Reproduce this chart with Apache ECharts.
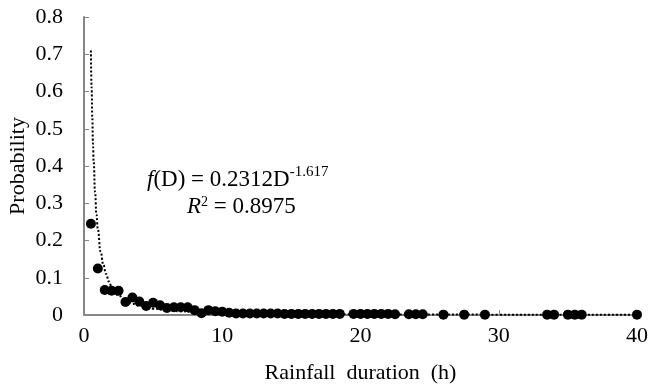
<!DOCTYPE html>
<html>
<head>
<meta charset="utf-8">
<script src="https://cdn.jsdelivr.net/npm/echarts@6/dist/echarts.min.js"></script>
<style>
  html, body { margin: 0; padding: 0; background: #fff; }
  #chart { width: 650px; height: 386px; }
</style>
</head>
<body>
<div id="chart"></div>
<script>
// observed points: rainfall duration (h) and probability
var durations = [
  0.5, 1, 1.5, 2, 2.5, 3, 3.5, 4, 4.5, 5, 5.5, 6, 6.5, 7, 7.5, 8, 8.5, 9, 9.5, 10, 10.5,
  11, 11.5, 12, 12.5, 13, 13.5, 14, 14.5, 15, 15.5, 16, 16.5, 17, 17.5, 18, 18.5,
  19.5, 20, 20.5, 21, 21.5, 22, 22.5,
  23.5, 24, 24.5, 26, 27.5, 29,
  33.5, 34, 35, 35.5, 36, 40
];
var probs = [
  0.245, 0.125, 0.067, 0.065, 0.065, 0.035, 0.047, 0.036, 0.024, 0.033, 0.026, 0.019, 0.021, 0.021, 0.021, 0.013, 0.005, 0.013, 0.010, 0.009, 0.006,
  0.004, 0.004, 0.004, 0.004, 0.004, 0.004, 0.004, 0.003, 0.003, 0.003, 0.003, 0.003, 0.003, 0.003, 0.003, 0.003,
  0.003, 0.003, 0.003, 0.003, 0.003, 0.003, 0.002,
  0.002, 0.002, 0.002, 0.001, 0.001, 0.001,
  0.001, 0.001, 0.001, 0.001, 0.001, 0.001
];
// dotted power trend line
var trendX = [0.5, 0.55, 0.6, 0.65, 0.7, 0.8, 0.9, 1, 1.2, 1.4, 1.6, 1.8, 2, 2.5, 3, 3.5, 4, 5, 6, 7, 8, 10, 12, 15, 20, 25, 30, 35, 40];
var trendY = [0.71, 0.61, 0.53, 0.46, 0.41, 0.33, 0.27, 0.23, 0.17, 0.135, 0.11, 0.09, 0.076, 0.052, 0.039, 0.03, 0.025, 0.017, 0.013, 0.010, 0.008, 0.006, 0.0042, 0.003, 0.002, 0.0013, 0.001, 0.0007, 0.0006];

var yTicks = [0, 0.1, 0.2, 0.3, 0.4, 0.5, 0.6, 0.7, 0.8];
var xTicks = [0, 10, 20, 30, 40];

var font = 'Liberation Serif';
var axisColor = '#878787';

var chart = echarts.init(document.getElementById('chart'));
chart.setOption({
  animation: false,
  grid: { left: 84, right: 13, top: 17, bottom: 71, containLabel: false, outerBoundsMode: 'none' },
  xAxis: {
    type: 'value',
    min: xTicks[0],
    max: xTicks[xTicks.length - 1],
    interval: 10,
    name: 'Rainfall  duration  (h)',
    nameLocation: 'middle',
    nameGap: 47,
    nameMoveOverlap: false,
    nameTextStyle: { fontFamily: font, fontSize: 22, color: '#000' },
    axisLine: { lineStyle: { color: axisColor, width: 2 } },
    axisTick: { inside: true, length: 5, lineStyle: { color: axisColor } },
    axisLabel: { fontFamily: font, fontSize: 22, color: '#000', margin: 10 },
    splitLine: { show: false }
  },
  yAxis: {
    type: 'value',
    min: yTicks[0],
    max: yTicks[yTicks.length - 1],
    interval: 0.1,
    name: 'Probability',
    nameLocation: 'middle',
    nameGap: 55,
    nameMoveOverlap: false,
    nameTextStyle: { fontFamily: font, fontSize: 22, color: '#000' },
    axisLine: { show: true, lineStyle: { color: axisColor, width: 2 } },
    axisTick: { show: true, inside: true, length: 5, lineStyle: { color: axisColor } },
    axisLabel: {
      fontFamily: font, fontSize: 22, color: '#000', margin: 21,
      formatter: function (v) { return +v.toFixed(1) + ''; }
    },
    splitLine: { show: false }
  },
  series: [
    {
      type: 'line',
      data: trendX.map(function (x, i) { return [x, trendY[i]]; }),
      showSymbol: false,
      smooth: true,
      smoothMonotone: 'x',
      lineStyle: { color: '#000', width: 2, type: [2, 2] },
      z: 2
    },
    {
      type: 'scatter',
      data: durations.map(function (x, i) { return [x, probs[i]]; }),
      symbol: 'circle',
      symbolSize: 10,
      itemStyle: { color: '#000', opacity: 1 },
      z: 3
    }
  ],
  graphic: [
    {
      type: 'text',
      left: 147,
      top: 165,
      style: {
        text: '{i|f}(D) = 0.2312D{s|-1.617}',
        fontFamily: font,
        fontSize: 23,
        fill: '#000',
        rich: {
          i: { fontFamily: font, fontSize: 23, fontStyle: 'italic' },
          s: { fontFamily: font, fontSize: 15, padding: [0, 0, 15, 0] }
        }
      }
    },
    {
      type: 'text',
      left: 187,
      top: 195,
      style: {
        text: '{i|R}{s|2} = 0.8975',
        fontFamily: font,
        fontSize: 23,
        fill: '#000',
        rich: {
          i: { fontFamily: font, fontSize: 23, fontStyle: 'italic' },
          s: { fontFamily: font, fontSize: 14, padding: [0, 0, 10, 0] }
        }
      }
    }
  ]
});
</script>
</body>
</html>
